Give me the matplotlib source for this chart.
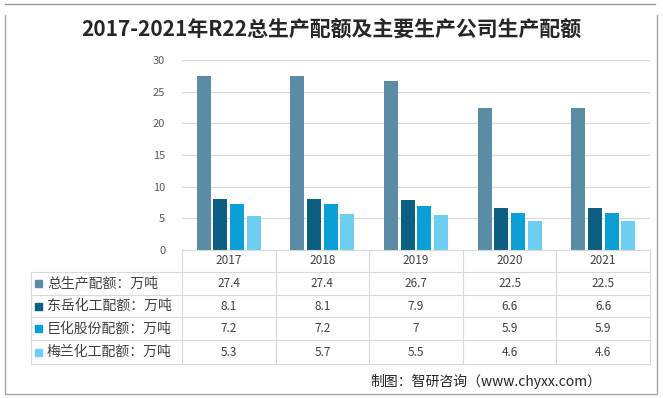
import numpy as np
import matplotlib.pyplot as plt
from matplotlib.lines import Line2D
from matplotlib.patches import Rectangle

plt.rcParams['font.family'] = ['Noto Sans CJK SC', 'DejaVu Sans']

years = ['2017', '2018', '2019', '2020', '2021']
series_names = ['总生产配额：万吨', '东岳化工配额：万吨', '巨化股份配额：万吨', '梅兰化工配额：万吨']
total = [27.4, 27.4, 26.7, 22.5, 22.5]
dongyue = [8.1, 8.1, 7.9, 6.6, 6.6]
juhua = [7.2, 7.2, 7, 5.9, 5.9]
meilan = [5.3, 5.7, 5.5, 4.6, 4.6]
colors = ['#5b8ca6', '#0d5f82', '#0aa0d6', '#6dcdf2']

W, H = 663, 398
fig = plt.figure(figsize=(W / 100, H / 100), dpi=100)

def fx(px):
    return px / W

def fy(py):
    return 1 - py / H

# plot area in pixels
left, right, top, bottom = 182, 650, 60, 250
ax = fig.add_axes([fx(left), fy(bottom), fx(right - left), (bottom - top) / H])

all_series = [total, dongyue, juhua, meilan]
x = np.arange(len(years))
bw = 0.15
step = 0.178
for k, (vals, c) in enumerate(zip(all_series, colors)):
    ax.bar(x + (k - 1.5) * step, vals, width=bw, color=c, zorder=3)

ax.set_xlim(-0.5, len(years) - 0.5)
ax.set_ylim(0, 30)
ax.set_yticks(range(0, 31, 5))
ax.tick_params(axis='y', length=0, labelsize=8, labelcolor='#595959', pad=12)
ax.set_xticks([])
ax.grid(axis='y', color='#d9d9d9', linewidth=0.8, zorder=0)
for s in ax.spines.values():
    s.set_visible(False)

fig.text(0.5, fy(30), '2017-2021年R22总生产配额及主要生产公司生产配额',
         ha='center', va='center', fontsize=15, fontweight='bold', color='#262626')

# data table below the plot
line_c = '#d9d9d9'
tab_left = 31
row_y = [250, 272, 295, 317, 340, 364]
col_x = [left + i * (right - left) / len(years) for i in range(len(years) + 1)]

def hline(y, x0, x1):
    fig.add_artist(Line2D([fx(x0), fx(x1)], [fy(y), fy(y)], color=line_c, lw=0.8))

def vline(xp, y0, y1):
    fig.add_artist(Line2D([fx(xp), fx(xp)], [fy(y0), fy(y1)], color=line_c, lw=0.8))

hline(row_y[0], left, right)
for y in row_y[1:]:
    hline(y, tab_left, right)
for xp in col_x:
    vline(xp, row_y[0], row_y[-1])
vline(tab_left, row_y[1], row_y[-1])

for i, yr in enumerate(years):
    cx = (col_x[i] + col_x[i + 1]) / 2
    fig.text(fx(cx), fy((row_y[0] + row_y[1]) / 2), yr, ha='center', va='center',
             fontsize=8.5, color='#404040')

for r, (name, vals, c) in enumerate(zip(series_names, all_series, colors)):
    cy = (row_y[r + 1] + row_y[r + 2]) / 2
    fig.add_artist(Rectangle((fx(35), fy(cy + 3.5)), fx(7), 7 / H, color=c))
    fig.text(fx(47), fy(cy), name, ha='left', va='center', fontsize=10, color='#404040')
    for i, v in enumerate(vals):
        cx = (col_x[i] + col_x[i + 1]) / 2
        fig.text(fx(cx), fy(cy), f'{v:g}', ha='center', va='center',
                 fontsize=8.5, color='#404040')

fig.text(fx(370), fy(381), '制图：智研咨询（www.chyxx.com）', ha='left', va='center',
         fontsize=10, color='#262626')

# outer frame
fig.add_artist(Line2D([fx(5), fx(655)], [fy(4), fy(4)], color='#9a9a9a', lw=1))
fig.add_artist(Line2D([fx(5), fx(5), fx(657), fx(657)], [fy(15), fy(394), fy(394), fy(15)],
                      color='#a6a6a6', lw=1))

fig.savefig('out.png', dpi=100)
